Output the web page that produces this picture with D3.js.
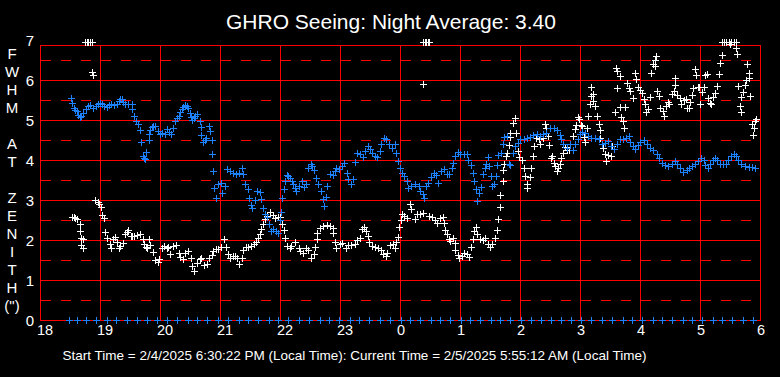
<!DOCTYPE html>
<html>
<head>
<meta charset="utf-8">
<script src="https://cdn.jsdelivr.net/npm/d3@7"></script>
<style>
  html, body { margin: 0; padding: 0; background: #000; }
  svg { display: block; font-family: "Liberation Sans", Arial, sans-serif; }
</style>
</head>
<body>
<svg class="chart"></svg>
<script>
// hours after 18:00 local time, FWHM in arcsec
const titleText = 'GHRO Seeing: Night Average: 3.40';
const footerText = 'Start Time = 2/4/2025 6:30:22 PM (Local Time): Current Time = 2/5/2025 5:55:12 AM (Local Time)';
const yTitleRows = ['F', 'W', 'H', 'M', '', 'A', 'T', '', 'Z', 'E', 'N', 'I', 'T', 'H', '(")'];
const xTickHours = [0, 1, 2, 3, 4, 5, 6, 7, 8, 9, 10, 11, 12];
const xTickLabels = ['18', '19', '20', '21', '22', '23', '0', '1', '2', '3', '4', '5', '6'];
const yTicks = [0, 1, 2, 3, 4, 5, 6, 7];
const yHalfTicks = [0.5, 1.5, 2.5, 3.5, 4.5, 5.5, 6.5];

// blue series
const blueSeeing = [
  [0.52,5.55],[0.54,5.43],[0.56,5.3],[0.58,5.25],[0.61,5.22],[0.64,5.12],[0.67,5.08],[0.69,5.1],
  [0.72,5.18],[0.76,5.28],[0.8,5.35],[0.84,5.38],[0.89,5.3],[0.93,5.36],[0.97,5.4],[1.0,5.43],
  [1.03,5.4],[1.07,5.36],[1.11,5.33],[1.15,5.37],[1.19,5.39],[1.23,5.38],[1.28,5.39],[1.31,5.47],
  [1.33,5.52],[1.36,5.53],[1.39,5.45],[1.42,5.4],[1.47,5.39],[1.53,5.39],[1.54,5.27],[1.57,5.1],
  [1.6,4.98],[1.64,4.89],[1.67,4.75],[1.69,4.46],[1.71,4.1],[1.73,4.05],[1.75,4.02],[1.77,4.2],
  [1.81,4.5],[1.82,4.64],[1.84,4.74],[1.86,4.82],[1.88,4.85],[1.92,4.85],[1.96,4.72],[2.0,4.66],
  [2.04,4.68],[2.08,4.66],[2.11,4.77],[2.15,4.7],[2.19,4.64],[2.22,4.8],[2.25,4.97],[2.28,5.05],
  [2.31,5.1],[2.34,5.2],[2.36,5.27],[2.39,5.33],[2.42,5.37],[2.45,5.35],[2.47,5.3],[2.5,5.18],
  [2.52,5.08],[2.54,5.0],[2.56,5.05],[2.58,5.1],[2.62,5.16],[2.66,4.97],[2.68,4.82],[2.69,4.62],
  [2.72,4.45],[2.75,4.5],[2.77,4.55],[2.81,4.85],[2.83,4.72],[2.86,4.5],[2.87,4.16],[2.89,3.72],
  [2.9,3.29],[2.93,3.06],[2.97,3.39],[3.01,3.43],[3.04,3.18],[3.08,3.35],[3.12,3.77],[3.17,3.72],
  [3.21,3.68],[3.27,3.64],[3.31,3.68],[3.36,3.79],[3.39,3.64],[3.42,3.39],[3.46,3.27],[3.49,3.06],
  [3.51,2.88],[3.54,2.79],[3.58,2.99],[3.62,3.23],[3.66,3.2],[3.69,3.02],[3.72,2.81],[3.75,2.66],
  [3.79,2.58],[3.82,2.4],[3.85,2.23],[3.89,2.27],[3.93,2.23],[3.97,2.18],[4.0,2.49],[4.02,2.7],
  [4.04,3.06],[4.06,3.27],[4.08,3.48],[4.11,3.63],[4.14,3.6],[4.17,3.56],[4.2,3.47],[4.22,3.39],
  [4.25,3.3],[4.27,3.23],[4.31,3.35],[4.36,3.48],[4.4,3.33],[4.44,3.39],[4.47,3.81],[4.51,3.9],
  [4.53,3.85],[4.56,3.74],[4.6,3.56],[4.64,3.41],[4.68,3.23],[4.71,3.02],[4.73,2.85],[4.77,3.08],
  [4.79,3.35],[4.83,3.64],[4.88,3.63],[4.92,3.72],[4.94,3.81],[4.99,3.77],[5.03,3.85],[5.07,3.93],
  [5.11,3.68],[5.14,3.52],[5.18,3.39],[5.22,3.52],[5.25,3.96],[5.29,4.18],[5.33,4.14],[5.38,4.07],
  [5.42,4.22],[5.46,4.35],[5.5,4.27],[5.54,4.18],[5.58,4.1],[5.62,4.07],[5.67,4.22],[5.69,4.41],
  [5.73,4.56],[5.77,4.52],[5.81,4.39],[5.86,4.31],[5.91,4.39],[5.94,4.18],[5.97,3.98],[6.0,3.81],
  [6.03,3.68],[6.07,3.6],[6.11,3.48],[6.14,3.29],[6.19,3.35],[6.25,3.41],[6.31,3.35],[6.34,3.23],
  [6.38,3.14],[6.4,3.04],[6.43,3.35],[6.47,3.43],[6.51,3.58],[6.56,3.68],[6.6,3.62],[6.64,3.43],
  [6.69,3.72],[6.73,3.77],[6.78,3.64],[6.82,3.64],[6.86,3.79],[6.89,3.93],[6.92,4.1],[6.96,4.21],
  [7.0,4.16],[7.06,4.16],[7.11,4.14],[7.14,3.99],[7.18,3.87],[7.21,3.68],[7.23,3.48],[7.27,3.27],
  [7.29,2.98],[7.32,3.18],[7.35,3.33],[7.38,3.64],[7.41,3.81],[7.43,3.91],[7.46,4.07],[7.49,3.85],
  [7.51,3.6],[7.54,3.35],[7.57,3.41],[7.6,3.6],[7.61,3.88],[7.64,4.12],[7.68,4.18],[7.71,4.39],
  [7.74,4.57],[7.78,4.6],[7.81,3.91],[7.83,3.87],[7.88,4.18],[7.92,4.35],[7.96,4.43],[8.0,4.52],
  [8.06,4.52],[8.11,4.54],[8.17,4.58],[8.22,4.62],[8.28,4.64],[8.33,4.6],[8.39,4.64],[8.44,4.68],
  [8.5,4.79],[8.56,4.81],[8.61,4.74],[8.66,4.62],[8.69,4.52],[8.72,4.39],[8.78,4.31],[8.83,4.41],
  [8.88,4.24],[8.92,4.39],[8.96,4.53],[9.0,4.64],[9.04,4.71],[9.08,4.68],[9.14,4.6],[9.19,4.54],
  [9.25,4.56],[9.31,4.52],[9.36,4.41],[9.42,4.43],[9.46,4.48],[9.51,4.35],[9.57,4.27],[9.61,4.39],
  [9.66,4.52],[9.71,4.52],[9.77,4.54],[9.81,4.6],[9.83,4.46],[9.88,4.35],[9.92,4.27],[9.96,4.38],
  [10.0,4.46],[10.06,4.49],[10.11,4.39],[10.17,4.31],[10.22,4.24],[10.28,4.14],[10.32,4.06],[10.36,3.93],
  [10.42,3.88],[10.47,3.85],[10.53,3.91],[10.58,3.98],[10.62,3.89],[10.67,3.79],[10.72,3.71],[10.78,3.74],
  [10.82,3.81],[10.86,3.85],[10.92,3.89],[10.96,3.98],[11.01,4.06],[11.06,3.99],[11.09,3.88],[11.13,3.79],
  [11.17,3.89],[11.21,3.99],[11.25,4.06],[11.29,3.99],[11.33,3.91],[11.39,3.89],[11.44,3.91],[11.47,3.99],
  [11.51,4.1],[11.56,4.16],[11.6,4.1],[11.64,3.99],[11.69,3.91],[11.75,3.85],[11.81,3.83],[11.86,3.83],
  [11.92,3.81]
];

// white series (6.95 = off the top of the scale)
const whiteSeeing = [
  [0.53,2.58],[0.56,2.58],[0.58,2.55],[0.62,2.52],[0.66,2.41],[0.66,2.23],[0.68,2.06],[0.72,2.02],
  [0.69,1.88],[0.71,1.79],[0.75,6.95],[0.78,6.95],[0.8,6.95],[0.83,6.95],[0.86,6.95],[0.86,6.2],
  [0.89,6.12],[0.92,2.99],[0.96,2.96],[0.99,2.91],[1.01,2.83],[1.04,2.63],[1.07,2.55],[1.09,2.21],
  [1.12,2.06],[1.16,1.91],[1.18,1.81],[1.21,2.02],[1.25,2.08],[1.28,1.95],[1.31,1.81],[1.33,1.85],
  [1.38,1.93],[1.42,2.14],[1.45,2.2],[1.47,2.24],[1.51,2.1],[1.54,2.1],[1.57,2.1],[1.62,2.12],
  [1.67,2.14],[1.71,2.02],[1.73,1.91],[1.76,1.82],[1.78,1.79],[1.82,2.02],[1.84,1.88],[1.89,1.71],
  [1.92,1.49],[1.96,1.46],[1.99,1.52],[2.03,1.79],[2.07,1.85],[2.11,1.81],[2.14,1.83],[2.17,1.66],
  [2.22,1.85],[2.27,1.88],[2.31,1.68],[2.34,1.58],[2.38,1.52],[2.42,1.68],[2.47,1.73],[2.51,1.54],
  [2.54,1.35],[2.57,1.23],[2.61,1.43],[2.66,1.52],[2.69,1.56],[2.74,1.37],[2.78,1.39],[2.82,1.54],
  [2.86,1.63],[2.89,1.73],[2.93,1.77],[2.97,1.77],[3.01,1.83],[3.06,2.02],[3.1,1.83],[3.13,1.64],
  [3.17,1.56],[3.21,1.6],[3.25,1.6],[3.29,1.56],[3.32,1.41],[3.36,1.54],[3.39,1.74],[3.43,1.83],
  [3.47,1.83],[3.51,1.85],[3.56,1.89],[3.6,1.96],[3.64,2.04],[3.67,2.14],[3.69,2.27],[3.72,2.39],
  [3.75,2.52],[3.79,2.6],[3.83,2.71],[3.88,2.63],[3.92,2.56],[3.96,2.58],[4.0,2.58],[4.03,2.41],
  [4.06,2.24],[4.08,2.06],[4.11,1.85],[4.16,1.79],[4.19,1.85],[4.25,1.96],[4.31,1.81],[4.34,1.73],
  [4.39,1.68],[4.43,1.79],[4.47,1.74],[4.52,1.56],[4.56,1.64],[4.58,1.83],[4.61,2.02],[4.62,2.18],
  [4.67,2.31],[4.72,2.35],[4.78,2.38],[4.83,2.35],[4.88,2.31],[4.89,2.18],[4.91,1.96],[4.94,1.81],
  [5.0,1.89],[5.04,1.93],[5.1,1.79],[5.14,1.88],[5.19,1.88],[5.25,1.91],[5.29,1.99],[5.33,2.04],
  [5.36,2.27],[5.4,2.33],[5.43,2.23],[5.46,2.1],[5.49,1.96],[5.53,1.85],[5.58,1.83],[5.64,1.79],
  [5.68,1.74],[5.72,1.64],[5.77,1.6],[5.79,1.68],[5.83,1.88],[5.88,1.91],[5.92,1.79],[5.94,1.96],
  [5.97,2.08],[5.99,2.33],[6.01,2.49],[6.04,2.66],[6.07,2.6],[6.11,2.56],[6.16,2.91],[6.19,2.77],
  [6.25,2.52],[6.29,2.66],[6.33,2.64],[6.38,2.68],[6.38,6.95],[6.41,6.95],[6.43,6.95],[6.46,6.95],
  [6.49,6.95],[6.39,5.91],[6.49,2.6],[6.53,2.58],[6.58,2.49],[6.62,2.43],[6.67,2.56],[6.71,2.58],
  [6.73,2.43],[6.75,2.24],[6.78,2.16],[6.81,2.02],[6.83,1.98],[6.88,2.06],[6.91,1.93],[6.92,1.74],
  [6.96,1.63],[6.99,1.56],[7.03,1.6],[7.07,1.68],[7.11,1.66],[7.15,1.58],[7.19,1.83],[7.21,2.02],
  [7.23,2.23],[7.27,2.33],[7.29,2.14],[7.33,2.02],[7.38,1.99],[7.42,2.06],[7.46,1.91],[7.5,1.83],
  [7.54,1.91],[7.58,2.04],[7.61,2.24],[7.64,2.52],[7.66,2.83],[7.67,3.13],[7.71,3.48],[7.72,3.74],
  [7.74,3.89],[7.77,4.1],[7.79,4.18],[7.81,4.38],[7.83,4.58],[7.84,4.68],[7.88,4.93],[7.91,5.04],
  [7.93,4.68],[7.96,4.22],[7.99,4.07],[8.03,3.99],[8.07,3.81],[8.08,3.6],[8.12,3.39],[8.12,3.31],
  [8.16,3.58],[8.18,3.79],[8.21,4.1],[8.23,4.35],[8.27,4.56],[8.31,4.52],[8.34,4.41],[8.38,4.54],
  [8.42,4.89],[8.44,4.79],[8.47,4.6],[8.49,4.38],[8.51,4.04],[8.54,4.1],[8.57,3.93],[8.58,3.85],
  [8.61,3.72],[8.64,3.79],[8.67,3.91],[8.69,4.04],[8.71,4.18],[8.75,4.33],[8.78,4.24],[8.81,4.24],
  [8.83,4.39],[8.88,4.6],[8.92,4.77],[8.94,4.88],[8.96,5.08],[8.99,5.02],[9.01,4.88],[9.04,4.85],
  [9.06,4.58],[9.08,4.46],[9.11,4.81],[9.14,5.1],[9.16,5.39],[9.18,5.6],[9.19,5.83],[9.21,5.66],
  [9.22,5.48],[9.25,5.35],[9.28,5.1],[9.31,4.89],[9.33,4.74],[9.34,4.56],[9.38,4.31],[9.42,4.16],
  [9.44,3.98],[9.47,4.13],[9.51,4.1],[9.54,4.35],[9.58,5.21],[9.6,6.31],[9.61,5.81],[9.62,6.23],
  [9.66,6.1],[9.67,5.33],[9.69,5.08],[9.72,4.98],[9.73,4.81],[9.75,5.33],[9.78,5.93],[9.81,5.81],
  [9.84,5.73],[9.88,5.54],[9.92,6.18],[9.94,6.02],[9.97,5.83],[10.0,5.75],[10.03,5.68],[10.06,5.52],
  [10.08,5.39],[10.1,5.21],[10.14,5.27],[10.16,5.58],[10.19,6.18],[10.22,6.39],[10.25,6.49],[10.27,6.6],
  [10.25,6.36],[10.29,5.73],[10.32,5.6],[10.34,5.29],[10.39,5.22],[10.4,5.1],[10.43,5.35],[10.46,5.46],
  [10.49,5.39],[10.53,5.64],[10.56,5.73],[10.58,6.06],[10.58,5.88],[10.62,5.62],[10.67,5.56],[10.69,5.39],
  [10.73,5.49],[10.77,5.52],[10.79,5.31],[10.82,5.31],[10.83,5.46],[10.86,5.62],[10.89,5.79],[10.92,6.27],
  [10.93,6.12],[10.96,5.83],[10.99,5.83],[11.0,5.39],[11.03,5.71],[11.06,5.83],[11.08,6.12],[11.11,6.16],
  [11.14,5.56],[11.17,5.43],[11.19,5.41],[11.22,5.58],[11.25,5.68],[11.28,5.85],[11.31,6.16],[11.33,6.43],
  [11.36,6.62],[11.36,6.95],[11.4,6.95],[11.44,6.95],[11.48,6.95],[11.52,6.95],[11.56,6.95],[11.6,6.95],
  [11.5,6.9],[11.6,6.81],[11.62,6.66],[11.64,5.85],[11.66,5.35],[11.68,5.21],[11.69,5.58],[11.72,5.71],
  [11.75,5.88],[11.77,6.0],[11.79,6.39],[11.81,6.18],[11.82,6.06],[11.84,5.6],[11.86,4.89],[11.88,4.62],
  [11.9,4.79],[11.92,4.98],[11.93,5.02]
];

// blue markers sitting on zero
const zeroTimes = [
  0.49, 0.61, 0.77, 0.94, 1.11, 1.27, 1.45, 1.62, 1.78, 1.95, 2.12, 2.29, 2.46, 2.62, 2.79, 2.97,
  3.14, 3.31, 3.47, 3.64, 3.81, 3.97, 4.14, 4.32, 4.49, 4.66, 4.82, 4.99, 5.16, 5.32, 5.49, 5.66,
  5.84, 6.01, 6.17, 6.34, 6.51, 6.67, 6.84, 7.01, 7.17, 7.34, 7.51, 7.67, 7.84, 8.02, 8.18, 8.35,
  8.52, 8.68, 8.85, 9.02, 9.18, 9.37, 9.54, 9.71, 9.87, 10.04, 10.21, 10.37, 10.54, 10.71, 10.87,
  11.04, 11.21, 11.37, 11.54, 11.71, 11.89
];

const width = 780, height = 377;
const plotLeft = 40, plotRight = 760, plotBottom = 320, frameTop = 45;
const red = '#ff0000', blue = '#1e82ff';

const svg = d3.select('.chart')
  .attr('width', width)
  .attr('height', height);

svg.append('rect').attr('width', width).attr('height', height).attr('fill', '#000');

const x = d3.scaleLinear().domain([0, 12]).range([plotLeft, plotRight]);
const y = d3.scaleLinear().domain([0, 7]).range([plotBottom, 40]);
const px = v => Math.round(v) + 0.5;

const grid = svg.append('g').attr('shape-rendering', 'crispEdges');

// dashed half lines
grid.selectAll('.half').data(yHalfTicks)
  .enter().append('line')
  .attr('x1', plotLeft + 1).attr('x2', plotRight)
  .attr('y1', d => px(y(d))).attr('y2', d => px(y(d)))
  .attr('stroke', red).attr('stroke-dasharray', '10,10');

// solid integer lines (7 is above the frame)
grid.selectAll('.whole').data(yTicks.filter(d => d < 7))
  .enter().append('line')
  .attr('x1', plotLeft).attr('x2', plotRight)
  .attr('y1', d => px(y(d))).attr('y2', d => px(y(d)))
  .attr('stroke', red);

grid.append('line')
  .attr('x1', plotLeft).attr('x2', plotRight)
  .attr('y1', frameTop + 0.5).attr('y2', frameTop + 0.5)
  .attr('stroke', red);

grid.selectAll('.hour').data(xTickHours)
  .enter().append('line')
  .attr('x1', d => px(x(d))).attr('x2', d => px(x(d)))
  .attr('y1', frameTop).attr('y2', plotBottom + 1)
  .attr('stroke', red);

// markers
const plus = 'M-3.5,0H3.5M0,-3.5V3.5';
function drawMarkers(data, color) {
  svg.append('g')
    .attr('shape-rendering', 'crispEdges')
    .selectAll('path').data(data)
    .enter().append('path')
    .attr('d', plus)
    .attr('transform', d => `translate(${px(x(d[0]))},${px(y(d[1]))})`)
    .attr('stroke', color)
    .attr('stroke-width', 1.3)
    .attr('fill', 'none');
}
drawMarkers(whiteSeeing, '#fff');
drawMarkers(blueSeeing, blue);
drawMarkers(zeroTimes.map(t => [t, 0]), blue);

// axes
const xAxis = svg.append('g')
  .attr('transform', `translate(0,${plotBottom})`)
  .call(d3.axisBottom(x).tickValues(xTickHours)
    .tickFormat((d, i) => xTickLabels[i]).tickSize(0).tickPadding(5));
xAxis.select('.domain').remove();
xAxis.selectAll('text')
  .attr('fill', '#fff').attr('font-size', 14.5)
  .attr('text-anchor', 'start').attr('x', -3.5)
  .attr('font-family', '"Liberation Sans", Arial, sans-serif');

const yAxis = svg.append('g')
  .attr('transform', `translate(34,0)`)
  .call(d3.axisLeft(y).tickValues(yTicks).tickFormat(d3.format('d')).tickSize(0).tickPadding(0));
yAxis.select('.domain').remove();
yAxis.selectAll('text')
  .attr('fill', '#fff').attr('font-size', 15)
  .attr('dy', 5.5)
  .attr('font-family', '"Liberation Sans", Arial, sans-serif');

// titles
svg.append('text')
  .attr('x', 391).attr('y', 29)
  .attr('text-anchor', 'middle')
  .attr('fill', '#fff').attr('font-size', 21)
  .text(titleText);

svg.append('g').selectAll('text').data(yTitleRows)
  .enter().append('text')
  .attr('x', 12).attr('y', (d, i) => 59 + i * 18)
  .attr('text-anchor', 'middle')
  .attr('fill', '#fff').attr('font-size', 15)
  .text(d => d);

svg.append('text')
  .attr('x', 354.5).attr('y', 359.5)
  .attr('text-anchor', 'middle')
  .attr('fill', '#fff').attr('font-size', 13.5)
  .text(footerText);
</script>
</body>
</html>
